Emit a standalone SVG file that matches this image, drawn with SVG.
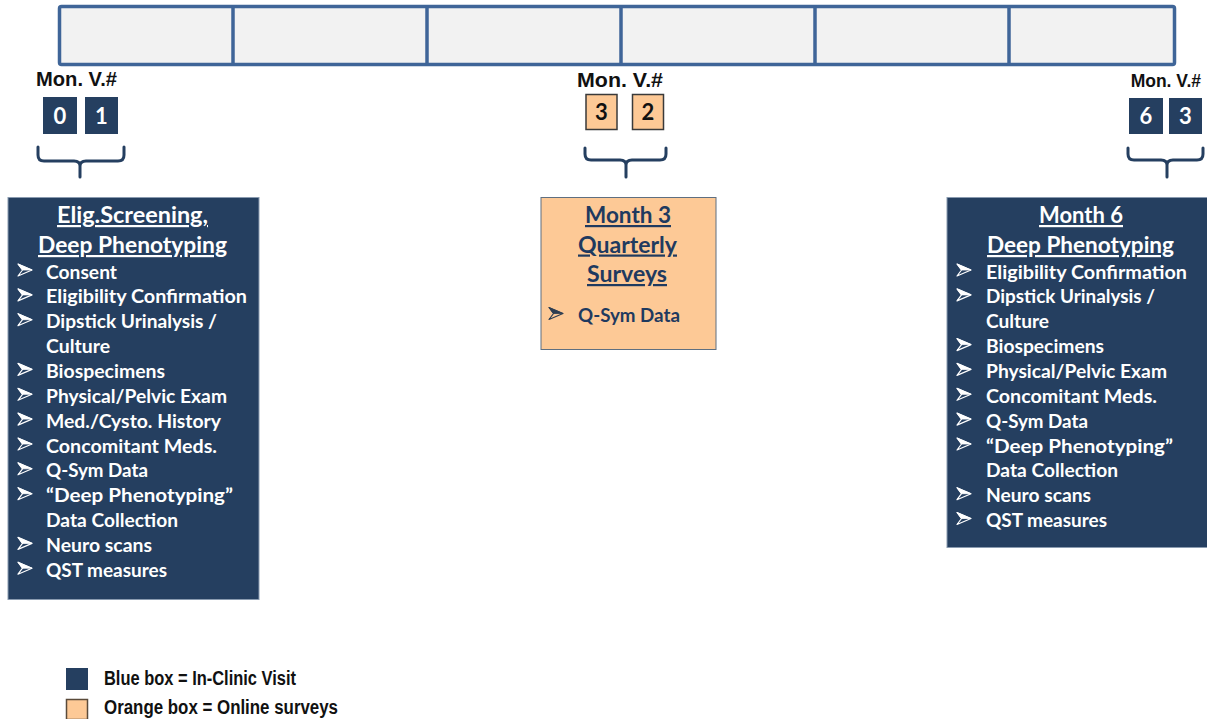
<svg xmlns="http://www.w3.org/2000/svg" width="1207" height="719" viewBox="0 0 1207 719">
  <style>
    .bar { fill: #f2f2f2; stroke: #3f6598; stroke-width: 3.5; }
    .div { stroke: #3f6598; stroke-width: 3.5; }
    .mon { font-family: "Liberation Sans", Arial, sans-serif; font-weight: bold; font-size: 21px; fill: #111; }
    .mon-sm { font-size: 17.5px; text-anchor: end; }
    .vbox { fill: #253f60; }
    .obox { fill: #fdc996; stroke: #3a3a3a; stroke-width: 1.5; }
    .dig { font-family: Lato, "Open Sans", sans-serif; font-weight: bold; font-size: 22px; text-anchor: middle; }
    .dw { fill: #ffffff; }
    .dk { fill: #111111; }
    .brace { fill: none; stroke: #253f60; stroke-width: 3; stroke-linecap: round; stroke-linejoin: round; }
    .panel { fill: #253f60; stroke: #8a9bb0; stroke-width: 1; }
    .opanel { fill: #fdc996; stroke: #5f6f80; stroke-width: 1; }
    .ttl { font-family: Lato, "Open Sans", sans-serif; font-weight: bold; font-size: 22px; text-anchor: middle; text-decoration: underline; }
    .item { font-family: Lato, "Open Sans", sans-serif; font-weight: bold; font-size: 18.5px; }
    .wt { fill: #ffffff; }
    .bt { fill: #1f3a5f; }
    .legend { font-family: "Liberation Sans", Arial, sans-serif; font-weight: bold; font-size: 20px; fill: #111; }
    .bul-w { fill: #ffffff; stroke: #ffffff; }
    .bul-d { fill: #2e3e52; stroke: #2e3e52; }
  </style>
  <defs>
    <!-- outlined arrowhead bullet, tip at (14,0) -->
    <g id="bullet">
      <path d="M0,-6 L14,0 L4.5,0 Z" stroke-width="0.8" stroke-linejoin="round"/>
      <path d="M0,-6 L14,0 L0,6 L4.5,0 Z" fill="none" stroke-width="1.2" stroke-linejoin="round"/>
    </g>
  </defs>

  <!-- timeline bar -->
  <g id="timeline">
    <rect class="bar" x="59.5" y="6.5" width="1115" height="58" rx="2"/>
    <line class="div" x1="233" y1="6.5" x2="233" y2="64.5"/>
    <line class="div" x1="427" y1="6.5" x2="427" y2="64.5"/>
    <line class="div" x1="621" y1="6.5" x2="621" y2="64.5"/>
    <line class="div" x1="815" y1="6.5" x2="815" y2="64.5"/>
    <line class="div" x1="1009" y1="6.5" x2="1009" y2="64.5"/>
  </g>

  <!-- visit markers -->
  <g id="visit-0">
    <text class="mon" x="36" y="86" textLength="81" lengthAdjust="spacingAndGlyphs">Mon. V.#</text>
    <rect class="vbox" x="43" y="97" width="34" height="37"/>
    <text class="dig dw" x="60" y="123.5">0</text>
    <rect class="vbox" x="85" y="97" width="33" height="37"/>
    <text class="dig dw" x="101.5" y="123.5">1</text>
  </g>
  <g id="visit-3">
    <text class="mon" x="577" y="87" textLength="86" lengthAdjust="spacingAndGlyphs">Mon. V.#</text>
    <rect class="obox" x="586" y="94.5" width="31" height="35"/>
    <text class="dig dk" x="601.5" y="120">3</text>
    <rect class="obox" x="632.5" y="94.5" width="31" height="35"/>
    <text class="dig dk" x="648" y="120">2</text>
  </g>
  <g id="visit-6">
    <text class="mon mon-sm" x="1201" y="87">Mon. V.#</text>
    <rect class="vbox" x="1129" y="98" width="34" height="36"/>
    <text class="dig dw" x="1146" y="124">6</text>
    <rect class="vbox" x="1169" y="98" width="33" height="36"/>
    <text class="dig dw" x="1185.5" y="124">3</text>
  </g>

  <!-- braces -->
  <g id="connectors">
    <path class="brace" d="M38,147 L38,155 Q38,161 44,161 L74,161 Q80,161 80,166 L80,177 M80,166 Q80,161 86,161 L118,161 Q124,161 124,155 L124,147"/>
    <path class="brace" d="M585,148 L585,154 Q585,160 591,160 L620,160 Q626,160 626,165 L626,177 M626,165 Q626,160 632,160 L660,160 Q666,160 666,154 L666,148"/>
    <path class="brace" d="M1128,148 L1128,154 Q1128,160 1134,160 L1161,160 Q1167,160 1167,165 L1167,177 M1167,165 Q1167,160 1173,160 L1197,160 Q1203,160 1203,154 L1203,148"/>
  </g>

  <!-- screening / baseline visit -->
  <g id="node-screening">
    <rect class="panel" x="8" y="197.5" width="251" height="402"/>
    <text class="ttl wt" x="132.5" y="223" textLength="151" lengthAdjust="spacingAndGlyphs">Elig.Screening,</text>
    <text class="ttl wt" x="132.5" y="253" textLength="189" lengthAdjust="spacingAndGlyphs">Deep Phenotyping</text>
    <g class="bul-w">
      <use href="#bullet" x="18" y="270"/>
      <use href="#bullet" x="18" y="294.9"/>
      <use href="#bullet" x="18" y="319.7"/>
      <use href="#bullet" x="18" y="369.4"/>
      <use href="#bullet" x="18" y="394.3"/>
      <use href="#bullet" x="18" y="419.1"/>
      <use href="#bullet" x="18" y="444"/>
      <use href="#bullet" x="18" y="468.8"/>
      <use href="#bullet" x="18" y="493.7"/>
      <use href="#bullet" x="18" y="543.4"/>
      <use href="#bullet" x="18" y="568.2"/>
    </g>
    <g class="item wt">
      <text x="46" y="278.5" textLength="71" lengthAdjust="spacingAndGlyphs">Consent</text>
      <text x="46" y="303.4" textLength="201" lengthAdjust="spacingAndGlyphs">Eligibility Confirmation</text>
      <text x="46" y="328.2" textLength="171" lengthAdjust="spacingAndGlyphs">Dipstick Urinalysis /</text>
      <text x="46" y="353.1" textLength="64" lengthAdjust="spacingAndGlyphs">Culture</text>
      <text x="46" y="377.9" textLength="119" lengthAdjust="spacingAndGlyphs">Biospecimens</text>
      <text x="46" y="402.8" textLength="181" lengthAdjust="spacingAndGlyphs">Physical/Pelvic Exam</text>
      <text x="46" y="427.6" textLength="175" lengthAdjust="spacingAndGlyphs">Med./Cysto. History</text>
      <text x="46" y="452.5" textLength="171" lengthAdjust="spacingAndGlyphs">Concomitant Meds.</text>
      <text x="46" y="477.3" textLength="102" lengthAdjust="spacingAndGlyphs">Q-Sym Data</text>
      <text x="46" y="502.2" textLength="187" lengthAdjust="spacingAndGlyphs">“Deep Phenotyping”</text>
      <text x="46" y="527" textLength="132" lengthAdjust="spacingAndGlyphs">Data Collection</text>
      <text x="46" y="551.9" textLength="106" lengthAdjust="spacingAndGlyphs">Neuro scans</text>
      <text x="46" y="576.7" textLength="121" lengthAdjust="spacingAndGlyphs">QST measures</text>
    </g>
  </g>

  <!-- month 3 online surveys -->
  <g id="node-month3">
    <rect class="opanel" x="541" y="197.5" width="175" height="152"/>
    <text class="ttl bt" x="628" y="223" textLength="86" lengthAdjust="spacingAndGlyphs">Month 3</text>
    <text class="ttl bt" x="627.5" y="252.5" textLength="99" lengthAdjust="spacingAndGlyphs">Quarterly</text>
    <text class="ttl bt" x="627" y="282" textLength="80" lengthAdjust="spacingAndGlyphs">Surveys</text>
    <use class="bul-d" href="#bullet" x="549" y="313.5"/>
    <text class="item bt" x="578" y="322" textLength="102" lengthAdjust="spacingAndGlyphs">Q-Sym Data</text>
  </g>

  <!-- month 6 clinic visit -->
  <g id="node-month6">
    <rect class="panel" x="947" y="197.5" width="262" height="350"/>
    <text class="ttl wt" x="1081" y="223" textLength="84" lengthAdjust="spacingAndGlyphs">Month 6</text>
    <text class="ttl wt" x="1080.5" y="253" textLength="187" lengthAdjust="spacingAndGlyphs">Deep Phenotyping</text>
    <g class="bul-w">
      <use href="#bullet" x="957" y="270"/>
      <use href="#bullet" x="957" y="294.9"/>
      <use href="#bullet" x="957" y="344.6"/>
      <use href="#bullet" x="957" y="369.4"/>
      <use href="#bullet" x="957" y="394.3"/>
      <use href="#bullet" x="957" y="419.1"/>
      <use href="#bullet" x="957" y="444"/>
      <use href="#bullet" x="957" y="493.7"/>
      <use href="#bullet" x="957" y="518.5"/>
    </g>
    <g class="item wt">
      <text x="986" y="278.5" textLength="201" lengthAdjust="spacingAndGlyphs">Eligibility Confirmation</text>
      <text x="986" y="303.4" textLength="169" lengthAdjust="spacingAndGlyphs">Dipstick Urinalysis /</text>
      <text x="986" y="328.2" textLength="63" lengthAdjust="spacingAndGlyphs">Culture</text>
      <text x="986" y="353.1" textLength="118" lengthAdjust="spacingAndGlyphs">Biospecimens</text>
      <text x="986" y="377.9" textLength="181" lengthAdjust="spacingAndGlyphs">Physical/Pelvic Exam</text>
      <text x="986" y="402.8" textLength="171" lengthAdjust="spacingAndGlyphs">Concomitant Meds.</text>
      <text x="986" y="427.6" textLength="102" lengthAdjust="spacingAndGlyphs">Q-Sym Data</text>
      <text x="986" y="452.5" textLength="187" lengthAdjust="spacingAndGlyphs">“Deep Phenotyping”</text>
      <text x="986" y="477.3" textLength="132" lengthAdjust="spacingAndGlyphs">Data Collection</text>
      <text x="986" y="502.2" textLength="105" lengthAdjust="spacingAndGlyphs">Neuro scans</text>
      <text x="986" y="527" textLength="121" lengthAdjust="spacingAndGlyphs">QST measures</text>
    </g>
  </g>

  <!-- legend -->
  <g id="legend">
    <rect x="66" y="668" width="22" height="22" fill="#253f60"/>
    <text class="legend" x="104" y="685" textLength="192" lengthAdjust="spacingAndGlyphs">Blue box = In-Clinic Visit</text>
    <rect x="66.5" y="699.5" width="21" height="20" fill="#fdc996" stroke="#5a4a3a" stroke-width="1.5"/>
    <text class="legend" x="104" y="714" textLength="234" lengthAdjust="spacingAndGlyphs">Orange box = Online surveys</text>
  </g>
</svg>
